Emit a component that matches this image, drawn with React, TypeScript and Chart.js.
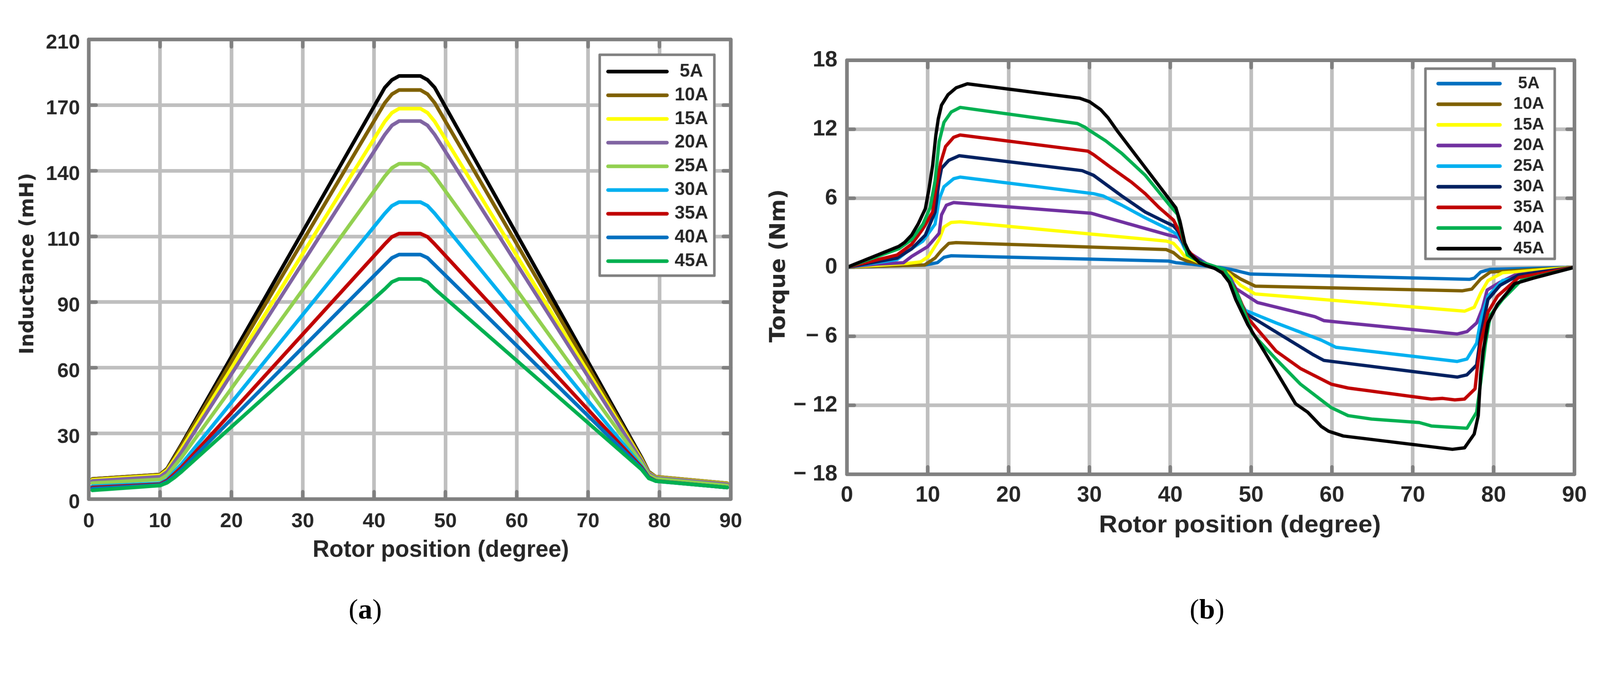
import React, { useEffect, useRef } from 'react';
import { Chart, registerables } from 'chart.js';

Chart.register(...registerables);

// ---------------- data ----------------
const seriesLabels = ['5A', '10A', '15A', '20A', '25A', '30A', '35A', '40A', '45A'];

const inductanceColors = ['#000000', '#7f6000', '#ffff00', '#8064a2', '#92d050', '#00b0f0', '#c00000', '#0070c0', '#00b050'];
const torqueColors = ['#0070c0', '#7f6000', '#ffff00', '#7030a0', '#00b0f0', '#002060', '#c00000', '#00b050', '#000000'];

// y tick labels as printed on chart (a) (grid is uniform every 30 units)
const inductanceTickLabels = ['0', '30', '60', '90', '110', '140', '170', '210'];
const torqueTickLabels = ['\u2212 18', '\u2212 12', '\u2212 6', '0', '6', '12', '18'];

// rotor position (degree) samples for inductance curves
const inductanceAngles = [0.5, 10, 11, 12, 13, 41.5, 42.5, 43.5, 46.5, 47.5, 48.5, 77.5, 78.5, 79.5, 89.5];

const inductance5A = [9.2, 11.2, 14.0, 19.5, 25.0, 188.0, 191.5, 193.3, 193.3, 191.5, 188.0, 19.0, 12.5, 10.2, 7.2];
const inductance10A = [9.2, 11.2, 13.8, 19.0, 24.5, 181.0, 185.0, 186.9, 186.9, 185.0, 181.0, 18.5, 12.3, 10.2, 7.2];
const inductance15A = [8.8, 10.8, 13.2, 18.0, 23.0, 172.5, 176.5, 178.4, 178.4, 176.5, 172.5, 18.0, 12.0, 10.0, 7.0];
const inductance20A = [8.3, 10.2, 12.5, 17.0, 21.5, 166.5, 170.7, 172.7, 172.7, 170.7, 166.5, 17.5, 11.8, 9.8, 6.8];
const inductance25A = [7.3, 9.0, 11.0, 15.0, 19.0, 147.5, 151.3, 153.2, 153.2, 151.3, 147.5, 16.5, 11.0, 9.3, 6.2];
const inductance30A = [5.9, 7.2, 9.0, 12.5, 16.0, 130.5, 134.0, 135.7, 135.7, 134.0, 130.5, 15.0, 10.0, 8.3, 5.3];
const inductance35A = [5.3, 6.8, 8.5, 11.5, 14.5, 116.5, 119.8, 121.3, 121.3, 119.8, 116.5, 14.5, 10.0, 8.3, 5.3];
const inductance40A = [4.8, 6.5, 8.0, 10.5, 13.5, 107.0, 110.2, 111.7, 111.7, 110.2, 107.0, 14.0, 9.8, 8.2, 5.3];
const inductance45A = [4.0, 6.2, 7.5, 9.8, 12.5, 96.0, 99.2, 100.6, 100.6, 99.2, 96.0, 13.5, 9.5, 8.2, 5.3];

// torque curves: [rotor position (degree), torque (Nm)]
const torque5A: [number, number][] = [[0, 0], [9.7, 0.2], [11.2, 0.4], [12.0, 0.87], [12.9, 1.0], [39.8, 0.54], [40.7, 0.4], [42.7, 0.27], [44.4, 0.1], [46, 0], [47.6, -0.2], [49.9, -0.59], [77.0, -1.05], [77.6, -0.95], [78.4, -0.41], [79.6, -0.18], [90, 0]];
const torque10A: [number, number][] = [[0, 0], [9.6, 0.2], [10.9, 0.8], [11.7, 1.47], [12.6, 2.08], [13.5, 2.14], [39.5, 1.54], [40.4, 1.27], [41.2, 0.8], [42.1, 0.54], [44, 0.3], [45.5, 0], [47.3, -0.41], [48.7, -1.02], [50.5, -1.64], [76.1, -2.05], [77.3, -1.9], [78.4, -1.02], [79.6, -0.41], [90, 0]];
const torque15A: [number, number][] = [[0, 0], [7.4, 0.33], [9.1, 0.47], [10.1, 0.94], [11.4, 2.4], [12.0, 3.5], [12.9, 3.9], [14.0, 3.95], [39.5, 2.28], [40.4, 2.08], [41.2, 1.47], [41.8, 0.94], [43.5, 0.45], [45, 0.1], [46.5, -0.2], [47.3, -0.61], [48.7, -1.57], [50.5, -2.32], [76.4, -3.82], [77.6, -3.48], [78.4, -2.25], [79.3, -1.16], [81.1, -0.48], [90, 0]];
const torque20A: [number, number][] = [[0, 0], [3.6, 0.27], [7.0, 0.4], [8.0, 0.94], [10.0, 1.8], [11.4, 2.95], [11.7, 4.56], [12.3, 5.4], [13.2, 5.63], [30.2, 4.7], [31.7, 4.4], [39.8, 2.8], [41.0, 2.6], [41.5, 2.1], [42.5, 1.2], [44.5, 0.3], [46.5, -0.2], [47.5, -1.0], [48.1, -1.84], [50.8, -3.07], [57.9, -4.3], [59.0, -4.64], [75.5, -5.8], [76.7, -5.6], [77.9, -4.84], [78.6, -3.6], [79.2, -1.98], [80.8, -1.3], [82.6, -0.68], [90, 0]];
const torque25A: [number, number][] = [[0, 0], [6.2, 0.67], [7.4, 1.34], [9.4, 2.28], [10.9, 3.75], [11.4, 5.9], [12.0, 7.0], [13.2, 7.7], [14.0, 7.84], [30.5, 6.4], [31.7, 6.2], [34.0, 5.4], [36.9, 4.3], [39.8, 3.3], [41.0, 2.8], [41.8, 1.6], [43.0, 0.8], [44.5, 0.25], [46.5, -0.2], [47.8, -1.5], [48.7, -3.07], [49.3, -3.75], [53.1, -4.84], [58.7, -6.34], [60.5, -6.96], [75.5, -8.19], [76.7, -7.98], [77.9, -6.6], [78.4, -4.57], [79.3, -2.52], [81.1, -1.16], [90, 0]];
const torque30A: [number, number][] = [[0, 0], [6.2, 0.8], [8.0, 1.6], [9.7, 2.8], [10.9, 4.8], [11.4, 7.5], [11.7, 8.6], [12.6, 9.3], [13.9, 9.7], [29.1, 8.4], [30.5, 8.0], [34.0, 6.2], [36.9, 4.8], [39.2, 4.0], [40.4, 3.6], [41.0, 3.1], [41.8, 1.8], [43.0, 0.8], [44.5, 0.2], [46.5, -0.2], [48.0, -1.8], [49.3, -4.0], [57.6, -7.57], [59.0, -8.1], [75.5, -9.55], [76.7, -9.35], [77.9, -8.5], [78.4, -5.93], [79.3, -2.8], [80.8, -1.57], [83.1, -0.68], [90, 0]];
const torque35A: [number, number][] = [[0, 0], [6.2, 1.07], [8.0, 2.0], [9.4, 3.35], [10.6, 4.8], [11.0, 6.8], [11.6, 9.1], [12.2, 10.5], [13.2, 11.3], [14.0, 11.5], [29.8, 10.1], [30.5, 9.8], [32.6, 8.7], [35.2, 7.4], [36.9, 6.4], [38.6, 5.2], [40.4, 4.1], [41.2, 3.0], [42.0, 1.6], [43.5, 0.5], [44.5, 0.2], [46.5, -0.2], [48.0, -1.8], [49.6, -4.43], [53.1, -7.3], [56.1, -8.8], [59.9, -10.16], [62.0, -10.5], [72.3, -11.46], [73.7, -11.4], [75.2, -11.53], [76.4, -11.46], [77.7, -10.57], [78.0, -8.66], [78.4, -6.6], [79.3, -3.9], [80.5, -2.5], [83.1, -0.89], [90, 0]];
const torque40A: [number, number][] = [[0, 0], [6.4, 1.6], [8.0, 2.4], [9.4, 3.75], [10.3, 5.2], [10.9, 7.5], [11.4, 10.9], [12.0, 12.6], [12.9, 13.5], [14.0, 13.9], [28.5, 12.5], [29.4, 12.2], [30.0, 11.9], [32.0, 11.0], [34.0, 9.9], [36.9, 8.0], [39.8, 5.5], [40.9, 4.6], [41.5, 2.8], [42.1, 1.07], [43.8, 0.4], [44.5, 0.3], [46.7, -0.2], [48.4, -2.5], [50.2, -5.8], [53.1, -8.0], [56.1, -10.16], [59.9, -12.2], [62.0, -12.9], [64.9, -13.2], [70.8, -13.5], [72.3, -13.8], [76.7, -14.0], [77.9, -12.6], [78.4, -10.0], [79.0, -6.6], [79.6, -4.16], [81.1, -2.8], [83.4, -1.16], [90, 0]];
const torque45A: [number, number][] = [[0, 0], [6.4, 1.81], [7.1, 2.14], [8.0, 2.8], [8.8, 3.75], [9.7, 5.1], [10.1, 6.6], [10.6, 8.85], [11.0, 11.5], [11.3, 12.9], [11.7, 14.1], [12.5, 15.0], [13.5, 15.6], [14.9, 15.95], [28.8, 14.7], [30.0, 14.4], [31.4, 13.7], [32.3, 13.0], [33.4, 11.9], [40.7, 5.16], [41.2, 4.0], [41.8, 2.1], [42.4, 1.2], [43.6, 0.4], [44.4, 0.15], [45.5, -0.1], [46.4, -0.48], [47.3, -1.3], [48.1, -2.8], [49.6, -5.0], [51.7, -7.4], [55.5, -11.87], [57.0, -12.6], [58.7, -13.85], [59.6, -14.26], [61.4, -14.67], [74.9, -15.83], [76.4, -15.7], [77.6, -14.5], [78.1, -12.9], [78.4, -9.35], [78.7, -7.3], [79.3, -4.84], [80.5, -3.2], [82.6, -1.43], [84.9, -0.95], [90, 0]];

const inductanceSeries = [inductance5A, inductance10A, inductance15A, inductance20A, inductance25A, inductance30A, inductance35A, inductance40A, inductance45A];
const torqueSeries = [torque5A, torque10A, torque15A, torque20A, torque25A, torque30A, torque35A, torque40A, torque45A];

// ---------------- styling ----------------
const PAGE_W = 4381;
const PAGE_H = 1749;
const FONT_SANS = '"Liberation Sans", Arial, sans-serif';
const FONT_TITLE = '"DejaVu Sans", Verdana, sans-serif';
const TEXT = '#262626';
const FRAME = '#808080';
const GRID = '#bfbfbf';

function fitText(ctx: CanvasRenderingContext2D, text: string, font: string, x: number, y: number, width: number, rotate: boolean) {
  ctx.save();
  ctx.translate(x, y);
  if (rotate) ctx.rotate(-Math.PI / 2);
  ctx.font = font;
  const w = ctx.measureText(text).width;
  ctx.scale(width / w, 1);
  ctx.fillStyle = TEXT;
  ctx.textAlign = 'center';
  ctx.textBaseline = 'alphabetic';
  ctx.fillText(text, 0, 0);
  ctx.restore();
}

type LegendCfg = {
  x0: number; y0: number; x1: number; y1: number; border: number;
  rowY0: number; rowStep: number; lineX0: number; lineX1: number; textX: number;
  fontSize: number; colors: string[];
};
type DecorCfg = {
  id: string; offsetX: number; frameWidth: number; tickLen: number;
  legend: LegendCfg;
  xTitle: { text: string; cx: number; baseline: number; width: number; size: number };
  yTitle: { text: string; baseline: number; cy: number; width: number; size: number };
};

function makeDecor(d: DecorCfg) {
  return {
    id: d.id,
    beforeDatasetsDraw(chart: any) {
      const { ctx, chartArea: a, scales } = chart;
      ctx.save();
      ctx.strokeStyle = FRAME;
      ctx.lineWidth = d.frameWidth;
      ctx.lineCap = 'round';
      ctx.beginPath();
      for (const t of scales.x.ticks) {
        const p = scales.x.getPixelForValue(t.value);
        ctx.moveTo(p, a.bottom); ctx.lineTo(p, a.bottom - d.tickLen);
        ctx.moveTo(p, a.top); ctx.lineTo(p, a.top + d.tickLen);
      }
      for (const t of scales.y.ticks) {
        const p = scales.y.getPixelForValue(t.value);
        ctx.moveTo(a.left, p); ctx.lineTo(a.left + d.tickLen, p);
        ctx.moveTo(a.right, p); ctx.lineTo(a.right - d.tickLen, p);
      }
      ctx.stroke();
      ctx.restore();
    },
    afterDatasetsDraw(chart: any) {
      const { ctx, chartArea: a } = chart;
      const ox = d.offsetX;
      ctx.save();
      ctx.strokeStyle = FRAME;
      ctx.lineWidth = d.frameWidth;
      ctx.lineJoin = 'round';
      ctx.strokeRect(a.left, a.top, a.right - a.left, a.bottom - a.top);

      const L = d.legend;
      ctx.fillStyle = '#ffffff';
      ctx.fillRect(L.x0 - ox, L.y0, L.x1 - L.x0, L.y1 - L.y0);
      ctx.lineWidth = L.border;
      ctx.strokeStyle = FRAME;
      ctx.strokeRect(L.x0 - ox, L.y0, L.x1 - L.x0, L.y1 - L.y0);
      seriesLabels.forEach((lab, i) => {
        const y = L.rowY0 + i * L.rowStep;
        ctx.strokeStyle = L.colors[i];
        ctx.lineWidth = 10;
        ctx.lineCap = 'round';
        ctx.beginPath();
        ctx.moveTo(L.lineX0 - ox, y);
        ctx.lineTo(L.lineX1 - ox, y);
        ctx.stroke();
        ctx.fillStyle = TEXT;
        ctx.font = `bold ${L.fontSize}px ${FONT_SANS}`;
        ctx.textAlign = 'center';
        ctx.textBaseline = 'middle';
        ctx.fillText(lab, L.textX - ox, y);
      });

      fitText(ctx, d.xTitle.text, `bold ${d.xTitle.size}px ${FONT_SANS}`, d.xTitle.cx - ox, d.xTitle.baseline, d.xTitle.width, false);
      fitText(ctx, d.yTitle.text, `bold ${d.yTitle.size}px ${FONT_TITLE}`, d.yTitle.baseline - ox, d.yTitle.cy, d.yTitle.width, true);
      ctx.restore();
    },
  };
}

function lineStyle(color: string, i: number, width: number) {
  return {
    borderColor: color,
    backgroundColor: color,
    borderWidth: width,
    pointRadius: 0,
    borderCapStyle: 'round' as const,
    borderJoinStyle: 'round' as const,
    tension: 0,
    fill: false,
    order: seriesLabels.length - 1 - i,
  };
}

const A_W = 2060, A_H = 1600;
const B_X = 2060, B_W = PAGE_W - 2060, B_H = 1600;

function inductanceConfig(): any {
  return {
    type: 'line',
    data: {
      datasets: seriesLabels.map((label, i) => ({
        label,
        data: inductanceAngles.map((x, k) => ({ x, y: inductanceSeries[i][k] })),
        ...lineStyle(inductanceColors[i], i, 10),
      })),
    },
    options: {
      animation: false,
      responsive: false,
      devicePixelRatio: 1,
      events: [],
      layout: { padding: { left: 0, top: 108, right: A_W - 2005, bottom: 0 } },
      plugins: { legend: { display: false }, tooltip: { enabled: false } },
      scales: {
        x: {
          type: 'linear', min: 0, max: 90,
          afterFit: (s: any) => { s.height = A_H - 1367; },
          grid: { color: GRID, lineWidth: 10, drawTicks: false },
          border: { display: false },
          ticks: { stepSize: 10, autoSkip: false, maxRotation: 0, padding: 28, color: TEXT, font: { family: FONT_SANS, size: 56, weight: 'bold' } },
        },
        y: {
          type: 'linear', min: 0, max: 210,
          afterFit: (s: any) => { s.width = 243; },
          grid: { color: GRID, lineWidth: 10, drawTicks: false },
          border: { display: false },
          ticks: {
            stepSize: 30, autoSkip: false, padding: 24, labelOffset: 10, color: TEXT,
            font: { family: FONT_SANS, size: 56, weight: 'bold' },
            callback: (v: any) => inductanceTickLabels[Math.round(Number(v) / 30)],
          },
        },
      },
    },
    plugins: [makeDecor({
      id: 'decorA', offsetX: 0, frameWidth: 10, tickLen: 20,
      legend: { x0: 1642, y0: 150, x1: 1956, y1: 755, border: 7, rowY0: 196, rowStep: 64.9, lineX0: 1665, lineX1: 1826, textX: 1893, fontSize: 50, colors: inductanceColors },
      xTitle: { text: 'Rotor position (degree)', cx: 1207, baseline: 1525, width: 702, size: 65 },
      yTitle: { text: 'Inductance (mH)', baseline: 91, cy: 722, width: 497, size: 53 },
    })],
  };
}

function torqueConfig(): any {
  return {
    type: 'line',
    data: {
      datasets: seriesLabels.map((label, i) => ({
        label,
        data: torqueSeries[i].map(([x, y]) => ({ x, y })),
        ...lineStyle(torqueColors[i], i, 9),
      })),
    },
    options: {
      animation: false,
      responsive: false,
      devicePixelRatio: 1,
      events: [],
      layout: { padding: { left: 0, top: 165, right: B_W - (4311 - B_X), bottom: 0 } },
      plugins: { legend: { display: false }, tooltip: { enabled: false } },
      scales: {
        x: {
          type: 'linear', min: 0, max: 90,
          afterFit: (s: any) => { s.height = B_H - 1299; },
          grid: { color: GRID, lineWidth: 10, drawTicks: false },
          border: { display: false },
          ticks: { stepSize: 10, autoSkip: false, maxRotation: 0, padding: 22, color: TEXT, font: { family: FONT_SANS, size: 61, weight: 'bold' } },
        },
        y: {
          type: 'linear', min: -18, max: 18,
          afterFit: (s: any) => { s.width = 2319 - B_X; },
          grid: { color: GRID, lineWidth: 10, drawTicks: false },
          border: { display: false },
          ticks: {
            stepSize: 6, autoSkip: false, padding: 26, color: TEXT,
            font: { family: FONT_SANS, size: 61, weight: 'bold' },
            callback: (v: any) => torqueTickLabels[Math.round((Number(v) + 18) / 6)],
          },
        },
      },
    },
    plugins: [makeDecor({
      id: 'decorB', offsetX: B_X, frameWidth: 10, tickLen: 20,
      legend: { x0: 3903, y0: 188, x1: 4257, y1: 709, border: 7, rowY0: 229, rowStep: 56.5, lineX0: 3938, lineX1: 4107, textX: 4186, fontSize: 46, colors: torqueColors },
      xTitle: { text: 'Rotor position (degree)', cx: 3395, baseline: 1458, width: 772, size: 66 },
      yTitle: { text: 'Torque (Nm)', baseline: 2149, cy: 728, width: 420, size: 58 },
    })],
  };
}

function ChartCanvas(props: { make: () => any; left: number; width: number; height: number }) {
  const ref = useRef<HTMLCanvasElement>(null);
  useEffect(() => {
    const chart = new Chart(ref.current as HTMLCanvasElement, props.make());
    return () => chart.destroy();
  }, []);
  return (
    <canvas
      ref={ref}
      width={props.width}
      height={props.height}
      style={{ position: 'absolute', left: props.left, top: 0, width: props.width, height: props.height }}
    />
  );
}

const captionStyle: React.CSSProperties = {
  position: 'absolute', top: 1629, width: 300, textAlign: 'center',
  fontFamily: '"Liberation Serif", "Times New Roman", serif', fontSize: 78, lineHeight: '78px', color: '#000',
};

export default function App() {
  // lay out in reference pixels, then fit the page to the actual viewport width
  const scale = typeof window !== 'undefined' && window.innerWidth > 0 ? window.innerWidth / PAGE_W : 1;
  return (
    <div style={{ position: 'absolute', left: 0, top: 0, width: PAGE_W * scale, height: PAGE_H * scale, overflow: 'hidden', background: '#fff' }}>
      <div style={{ position: 'absolute', left: 0, top: 0, width: PAGE_W, height: PAGE_H, transform: `scale(${scale})`, transformOrigin: '0 0', background: '#fff' }}>
        <ChartCanvas make={inductanceConfig} left={0} width={A_W} height={A_H} />
        <ChartCanvas make={torqueConfig} left={B_X} width={B_W} height={B_H} />
        <div style={{ ...captionStyle, left: 1000 - 150 }}>(<b>a</b>)</div>
        <div style={{ ...captionStyle, left: 3305 - 150 }}>(<b>b</b>)</div>
      </div>
    </div>
  );
}
